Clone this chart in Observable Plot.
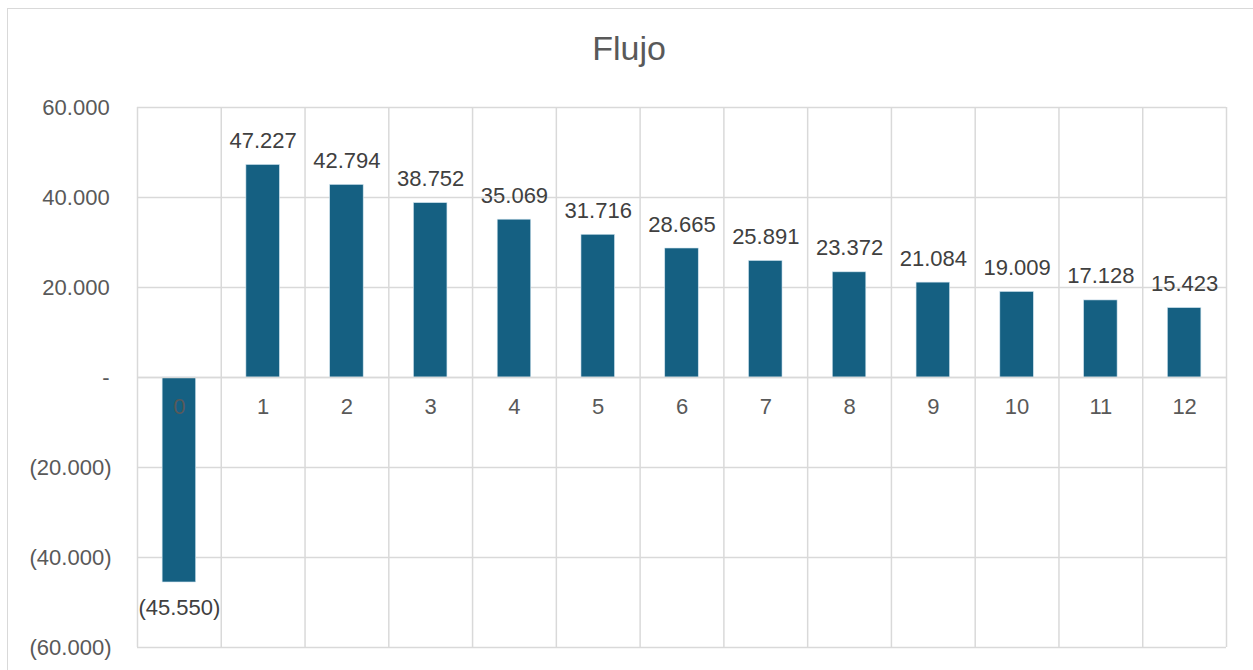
<!DOCTYPE html>
<html>
<head>
<meta charset="utf-8">
<script src="https://cdn.jsdelivr.net/npm/d3@7"></script>
<script src="https://cdn.jsdelivr.net/npm/@observablehq/plot@0.6"></script>
<style>
  html, body { margin: 0; padding: 0; background: #fff; overflow: hidden; }
  #wrap { position: relative; width: 1253px; height: 670px; }
  #border { position: absolute; left: 7px; top: 8px; width: 1260px; height: 700px;
            border: 1.5px solid #d9d9d9; box-sizing: border-box; }
  #chart { position: absolute; left: 0; top: 0; }
</style>
</head>
<body>
<div id="wrap"><div id="border"></div><div id="chart"></div></div>
<script>
const title = "Flujo";
const periods = [0, 1, 2, 3, 4, 5, 6, 7, 8, 9, 10, 11, 12];
const flujo = [-45550, 47227, 42794, 38752, 35069, 31716, 28665, 25891, 23372, 21084, 19009, 17128, 15423];
const yTicks = [-60000, -40000, -20000, 0, 20000, 40000, 60000];

const data = periods.map((p, i) => ({period: p, value: flujo[i]}));
const xEdges = periods.map(p => p - 0.5).concat([periods[periods.length - 1] + 0.5]);

const num = d3.format(",.0f");
const es = v => num(v).replace(/,/g, ".");
const fmt = v => v === 0 ? "-\u200a" : v < 0 ? "(" + es(-v) + ")" : es(v) + "\u200a";
const fmtLabel = v => v < 0 ? "(" + es(-v) + ")" : es(v);

const font = "Liberation Sans, Arial, sans-serif";
const fs = 22;

const chart = Plot.plot({
  width: 1253,
  height: 670,
  marginLeft: 137,
  marginRight: 27,
  marginTop: 107,
  marginBottom: 23,
  style: {fontFamily: font, color: "#595959", background: "transparent", overflow: "visible"},
  x: {type: "linear", domain: [-0.5, 12.5], axis: null},
  y: {domain: [-60000, 60000], axis: null, label: null},
  marks: [
    Plot.gridY(yTicks, {stroke: "#d9d9d9", strokeOpacity: 1, strokeWidth: 1.5}),
    Plot.ruleX(xEdges, {stroke: "#d9d9d9", strokeOpacity: 1, strokeWidth: 1.5}),
    Plot.axisY({ticks: yTicks, tickFormat: fmt, tickSize: 0, tickPadding: 26, fontSize: fs,
      fill: "#595959", label: null}),
    Plot.rectY(data, {x1: d => d.period - 0.2, x2: d => d.period + 0.2, y1: 0, y2: "value",
      fill: "#156082", stroke: "#cfe3ee", strokeWidth: 0.6}),
    Plot.ruleY([0], {stroke: "#d9d9d9", strokeWidth: 1.5}),
    Plot.text(data, {x: "period", y: 0, text: d => String(d.period), lineAnchor: "top", dy: 21,
      fontSize: fs, fill: "#595959"}),
    Plot.text(data, {x: "period", y: "value", text: d => fmtLabel(d.value),
      filter: d => d.value >= 0, lineAnchor: "bottom", dy: -17, fontSize: fs, fill: "#404040"}),
    Plot.text(data, {x: "period", y: "value", text: d => fmtLabel(d.value),
      filter: d => d.value < 0, lineAnchor: "top", dy: 17, fontSize: fs, fill: "#404040"}),
    Plot.text([title], {frameAnchor: "top", text: d => d, dx: -53, dy: -72, lineAnchor: "top",
      fontSize: 34, fill: "#595959"})
  ]
});
document.getElementById("chart").appendChild(chart);
</script>
</body>
</html>
